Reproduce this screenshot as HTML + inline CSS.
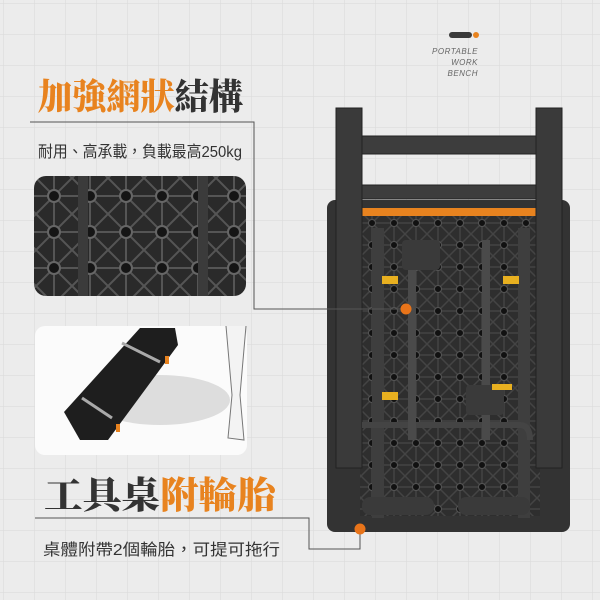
<!DOCTYPE html>
<html><head><meta charset="utf-8"><style>
html,body{margin:0;padding:0}
body{width:600px;height:600px;overflow:hidden;background:#ececec;position:relative;font-family:"Liberation Sans","Noto Sans CJK TC",sans-serif}
svg{position:absolute;left:0;top:0}
</style></head><body>
<svg width="600" height="600" viewBox="0 0 600 600">
<defs>
<pattern id="g" width="31" height="31" patternUnits="userSpaceOnUse" x="4" y="4">
<path d="M31 0V31M0 31H31" stroke="#d9d9d9" stroke-width="1" fill="none"/>
</pattern>
<pattern id="m" width="22" height="22" patternUnits="userSpaceOnUse" x="405" y="300">
<rect width="22" height="22" fill="#2e2e2e"/>
<path d="M0 0L22 22M22 0L0 22M11 0V22M0 11H22" stroke="#444" stroke-width="1.5"/>
<circle cx="11" cy="11" r="3.5" fill="#111" stroke="#555"/>
</pattern>
<pattern id="m2" width="36" height="36" patternUnits="userSpaceOnUse" x="36" y="178">
<rect width="36" height="36" fill="#2a2a2a"/>
<path d="M0 0L36 36M36 0L0 36M18 0V36M0 18H36" stroke="#555" stroke-width="2"/>
<circle cx="18" cy="18" r="6" fill="#151515" stroke="#666" stroke-width="2"/>
</pattern>
</defs>
<rect width="600" height="600" fill="#ececec"/>
<rect width="600" height="600" fill="url(#g)"/>

<rect x="449" y="32" width="23" height="6" rx="3" fill="#3a3a3a"/>
<circle cx="476" cy="35" r="3" fill="#e8831f"/>
<text x="478" y="54" font-size="8" fill="#666" text-anchor="end" font-style="italic" letter-spacing="0.5">PORTABLE</text>
<text x="478" y="65" font-size="8" fill="#666" text-anchor="end" font-style="italic" letter-spacing="0.5">WORK</text>
<text x="478" y="76" font-size="8" fill="#666" text-anchor="end" font-style="italic" letter-spacing="0.5">BENCH</text>

<text x="38" y="109" font-family="'Noto Serif CJK SC','Noto Sans CJK TC',serif" font-weight="900" font-size="36" fill="#e8831f" textLength="205" lengthAdjust="spacingAndGlyphs">加強網狀<tspan fill="#333">結構</tspan></text>
<text x="38" y="157" font-size="16" fill="#333" textLength="204" lengthAdjust="spacingAndGlyphs">耐用、高承載，負載最高250kg</text>

<text x="44" y="508" font-family="'Noto Serif CJK SC','Noto Sans CJK TC',serif" font-weight="900" font-size="37" fill="#333" textLength="232" lengthAdjust="spacingAndGlyphs">工具桌<tspan fill="#e8831f">附輪胎</tspan></text>
<text x="43" y="555" font-size="16" fill="#333" textLength="237" lengthAdjust="spacingAndGlyphs">桌體附帶2個輪胎，可提可拖行</text>

<rect x="34" y="176" width="212" height="120" rx="12" fill="url(#m2)"/>
<rect x="78" y="176" width="10" height="120" fill="#3b3b3b"/>
<rect x="198" y="176" width="10" height="120" fill="#3b3b3b"/>
<rect x="35" y="326" width="212" height="129" rx="10" fill="#fbfbfb"/>
<ellipse cx="160" cy="400" rx="70" ry="25" fill="#ddd"/>
<polygon points="64,412 140,328 175,328 178,345 108,440 80,440" fill="#1e1e1e"/>
<line x1="122" y1="343" x2="160" y2="362" stroke="#aaa" stroke-width="3"/>
<line x1="82" y1="398" x2="112" y2="418" stroke="#aaa" stroke-width="3"/>
<rect x="165" y="356" width="4" height="8" fill="#e8831f"/>
<rect x="116" y="424" width="4" height="8" fill="#e8831f"/>
<path d="M226 326 L232 395 L228 438 L244 440 L240 395 L246 326" fill="#f3f3f3" stroke="#777" stroke-width="1"/>

<rect x="327" y="200" width="243" height="332" rx="8" fill="#333"/>
<rect x="352" y="208" width="195" height="8" fill="#e8831f"/>
<rect x="360" y="216" width="180" height="300" fill="url(#m)"/>
<rect x="336" y="108" width="26" height="360" fill="#3a3a3a" stroke="#222"/>
<rect x="536" y="108" width="26" height="360" fill="#3a3a3a" stroke="#222"/>
<rect x="362" y="136" width="174" height="18" fill="#3d3d3d" stroke="#222"/>
<rect x="362" y="185" width="174" height="14" fill="#3d3d3d" stroke="#222"/>
<rect x="372" y="228" width="12" height="290" fill="#3e3e3e"/>
<rect x="518" y="228" width="12" height="290" fill="#3e3e3e"/>
<path d="M362 425 H520 Q530 425 530 440" stroke="#444" stroke-width="6" fill="none"/>
<rect x="408" y="240" width="8" height="200" fill="#4a4a4a"/>
<rect x="482" y="240" width="8" height="200" fill="#4a4a4a"/>
<rect x="402" y="240" width="38" height="30" rx="4" fill="#3a3a3a"/>
<rect x="466" y="385" width="38" height="30" rx="4" fill="#3a3a3a"/>
<rect x="382" y="276" width="16" height="8" fill="#e8b020"/>
<rect x="503" y="276" width="16" height="8" fill="#e8b020"/>
<rect x="382" y="392" width="16" height="8" fill="#e8b020"/>
<rect x="492" y="384" width="20" height="6" fill="#e8b020"/>
<rect x="362" y="497" width="72" height="18" rx="8" fill="#3a3a3a"/>
<rect x="458" y="497" width="72" height="18" rx="8" fill="#3a3a3a"/>

<polyline points="30,122 254,122 254,309 406,309" fill="none" stroke="#555" stroke-width="1"/>
<circle cx="406" cy="309" r="5.5" fill="#e8741a"/>
<polyline points="35,518 309,518 309,549 360,549 360,529" fill="none" stroke="#555" stroke-width="1"/>
<circle cx="360" cy="529" r="5.5" fill="#e8741a"/>
</svg>
</body></html>
